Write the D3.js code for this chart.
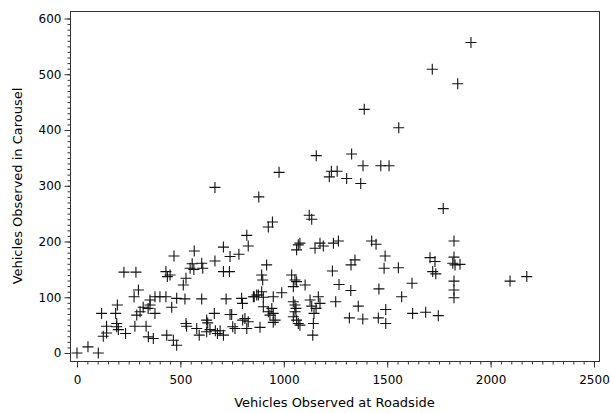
<!DOCTYPE html>
<html><head><meta charset="utf-8">
<script src="https://cdn.jsdelivr.net/npm/d3@7"></script>
<style>body{margin:0;background:#fff}svg{display:block}text{font-family:"DejaVu Sans",sans-serif;fill:#000}</style>
</head><body>
<script>
const roadside = [0,53,103,119,127,143,143,187,195,192,192,200,235,227,285,276,297,280,289,305,320,344,353,334,345,369,353,377,401,377,430,434,458,466,482,482,522,469,430,450,437,514,527,547,557,565,567,603,608,667,708,740,783,708,737,603,721,796,800,857,869,664,740,748,527,530,579,591,627,632,627,643,669,679,692,708,753,764,801,812,828,821,667,879,977,821,828,925,945,1123,1135,1062,1070,1078,1151,1175,1191,1240,1264,1425,1446,1490,1485,1554,1344,1325,1235,1267,1324,1460,1620,1570,1707,1731,1720,1735,1251,1360,1493,1317,1382,1457,1493,1623,1686,1747,1038,1054,1046,1062,1103,1046,1054,1059,1054,1046,1062,1070,1078,1127,1135,1156,1167,1175,1146,1143,1140,990,949,942,949,958,901,901,925,933,853,877,893,898,893,917,885,949,1157,1328,1389,1556,1718,1905,1841,1383,1469,1509,1220,1230,1258,1304,1372,1771,1823,1823,1817,1828,1852,1823,1823,1823,2094,2175];
const carousel = [0,11,0,71,30,36,48,71,86,53,47,42,35,145,145,101,113,48,68,74,82,80,86,48,29,26,95,101,101,71,101,32,82,23,14,98,97,174,146,140,137,122,134,152,160,150,183,161,152,165,190,173,177,146,146,97,97,98,89,101,104,71,69,69,53,48,44,32,59,54,38,42,40,35,40,32,47,44,59,62,56,44,297,280,324,211,192,226,235,247,240,185,194,197,188,197,192,197,201,201,195,174,152,153,167,158,147,123,112,115,125,101,171,164,146,142,92,84,78,63,61,63,53,71,73,67,140,131,119,128,122,92,86,80,74,65,59,53,50,95,84,80,101,89,71,53,32,108,101,80,71,59,100,83,74,68,101,104,110,131,140,158,46,55,354,357,437,404,509,557,483,336,336,336,316,326,326,313,304,259,201,172,161,158,159,129,113,99,129,137];
const xTicks = [0,500,1000,1500,2000,2500];
const yTicks = [0,100,200,300,400,500,600];
const xTitle = "Vehicles Observed at Roadside";
const yTitle = "Vehicles Observed in Carousel";

(function(){
const W = 610, H = 413;
const pL = 70, pR = 599, pT = 11, pB = 361;
const x = d3.scaleLinear().domain([0,2500]).range([77,594]);
const y = d3.scaleLinear().domain([0,600]).range([353,18.5]);

const svg = d3.select("body").append("svg").attr("width",W).attr("height",H);

svg.append("rect").attr("x",pL+0.5).attr("y",pT+0.5).attr("width",pR-pL).attr("height",pB-pT)
  .attr("fill","none").attr("stroke","#333").attr("stroke-width",1);

const xg = svg.append("g").attr("transform",`translate(0,${pB+0.5})`);
xg.call(d3.axisBottom(x).tickValues(d3.range(0,2501,50)).tickSize(3).tickFormat(""))
  .call(g=>g.select(".domain").remove());
xg.append("g").call(d3.axisBottom(x).tickValues(xTicks).tickSize(6).tickPadding(8).tickFormat(d3.format("d")))
  .call(g=>g.select(".domain").remove())
  .call(g=>g.selectAll("text").attr("font-size",12).attr("font-family","DejaVu Sans").attr("fill","#000"));
xg.selectAll("line").attr("stroke","#333");

const yg = svg.append("g").attr("transform",`translate(${pL+0.5},0)`);
yg.call(d3.axisLeft(y).tickValues(d3.range(0,601,10)).tickSize(3).tickFormat(""))
  .call(g=>g.select(".domain").remove());
yg.append("g").call(d3.axisLeft(y).tickValues(yTicks).tickSize(6).tickPadding(3).tickFormat(d3.format("d")))
  .call(g=>g.select(".domain").remove())
  .call(g=>g.selectAll("text").attr("font-size",12).attr("font-family","DejaVu Sans").attr("fill","#000"));
yg.selectAll("line").attr("stroke","#333");

svg.append("text").attr("x",(pL+pR)/2).attr("y",407).attr("text-anchor","middle").attr("font-size",13).text(xTitle);
svg.append("text").attr("transform",`translate(22,${(pT+pB)/2}) rotate(-90)`).attr("text-anchor","middle").attr("font-size",13).text(yTitle);

const pts = roadside.map((v,i)=>[v,carousel[i]]);
const s = 5.5;
svg.append("g").selectAll("path").data(pts).join("path")
  .attr("d",d=>{const px=x(d[0]), py=y(d[1]);return `M${px-s},${py}H${px+s}M${px},${py-s}V${py+s}`;})
  .attr("stroke","#111").attr("stroke-width",1.1).attr("fill","none");
})();
</script>
</body></html>
